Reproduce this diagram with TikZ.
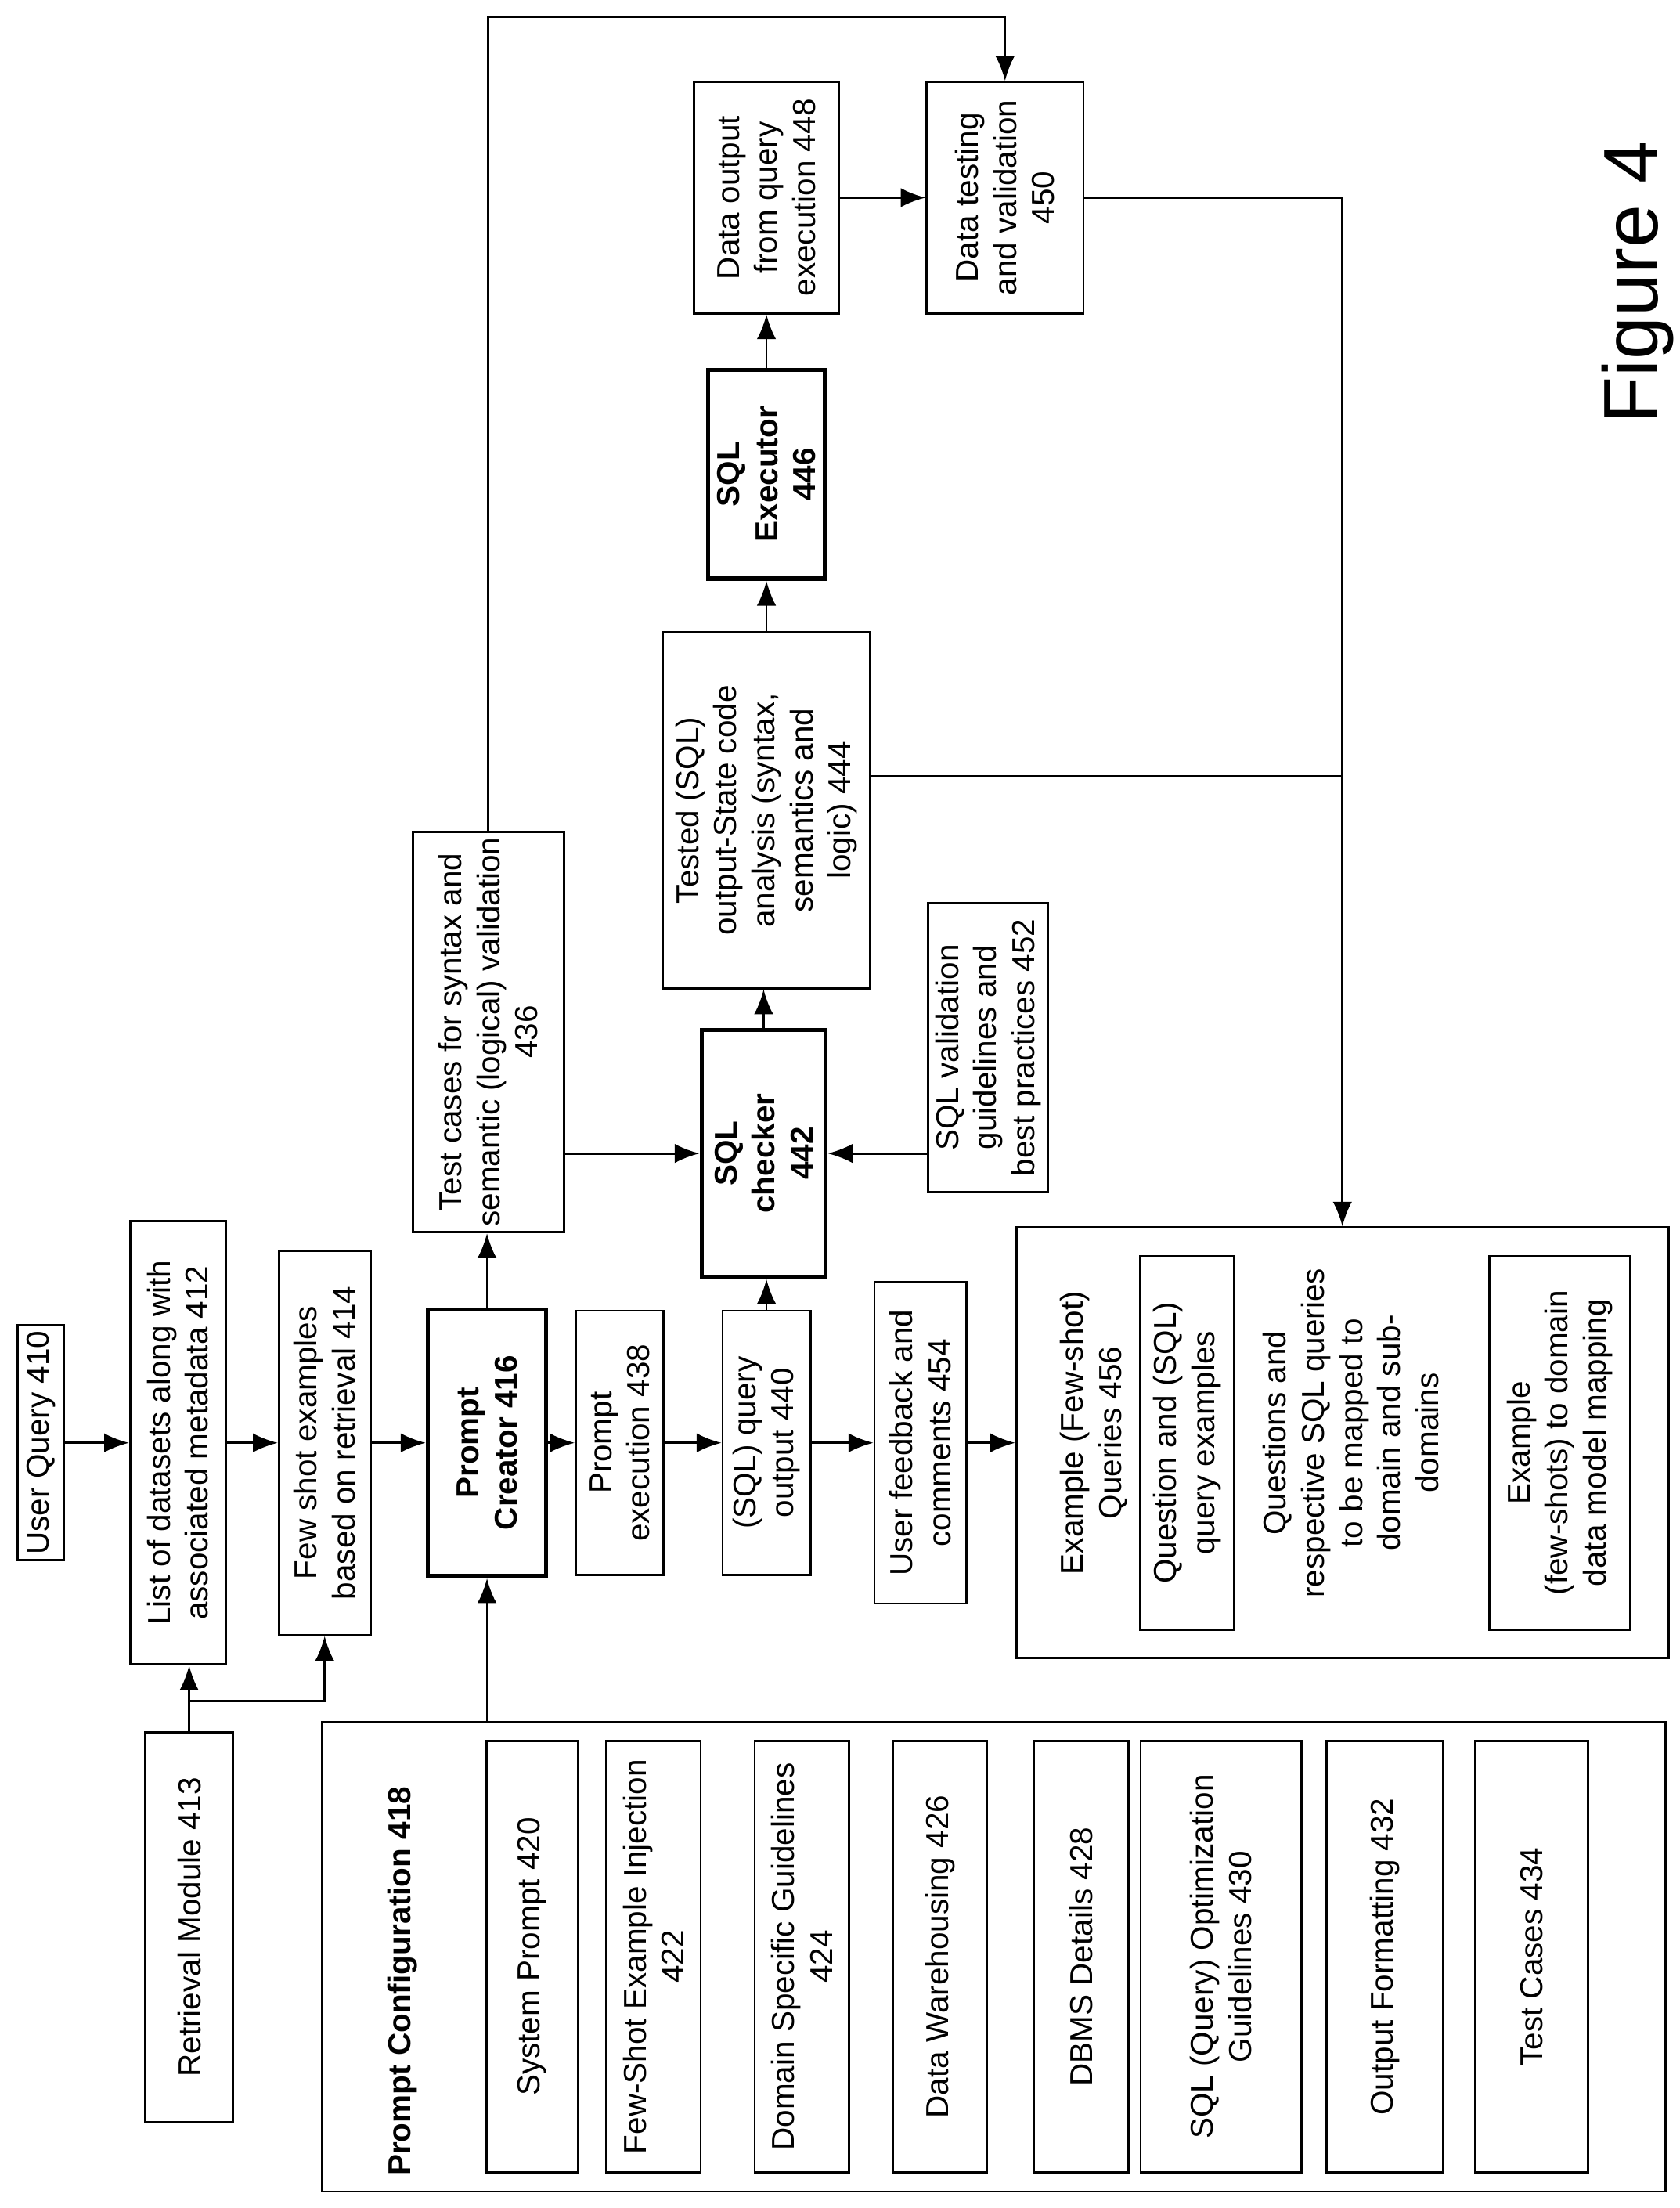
\documentclass[tikz,border=0pt]{standalone}
\usepackage{fontspec}
\setmainfont{Liberation Sans}
\usetikzlibrary{arrows.meta,calc}
\tikzset{
  box/.style={
    draw=black,
    line width=0.8pt,
    rotate=90,
    align=center,
    inner sep=2pt,
    font=\fontsize{11.5}{13.8}\selectfont
  },
  box-bold/.style={
    box,
    line width=1.6pt,
    font=\fontsize{11.5}{13.8}\selectfont\bfseries
  },
  plain-text/.style={
    rotate=90,
    align=center,
    font=\fontsize{11.5}{13.8}\selectfont
  },
  sz/.style 2 args={minimum width=#1cm, minimum height=#2cm},
  arr/.style={line width=0.8pt, -{Latex[length=9pt,width=7pt]}},
  wire/.style={line width=0.8pt}
}

\begin{document}
\begin{tikzpicture}[x=0.018cm,y=-0.018cm]
  \useasboundingbox (0,0) rectangle (1190,1564);
  % Query side
  \node[box, sz={2.47}{0.59}] (query) at (29,1022) {User Query 410};
  \node[box, sz={5.65}{1.22}] (datasets) at (126,1022) {List of datasets along with\\associated metadata 412};
  \node[box, sz={4.9}{1.17}] (fewshot) at (230,1022) {Few shot examples\\based on retrieval 414};
  \node[box-bold, sz={3.4}{1.51}] (creator) at (345,1022) {Prompt\\Creator 416};
  \node[box, sz={4.97}{1.12}] (retrieval) at (134,1365) {Retrieval Module 413};
  \coordinate (split) at (134,1205);
  % Prompt configuration
  \node[draw, line width=0.8pt, rotate=90, sz={5.99}{17.14}] (config) at (704,1386) {};
  \node[plain-text, anchor=west, font=\fontsize{11.5}{13.8}\selectfont\bfseries] (configlabel) at (285,1548) {Prompt Configuration 418};
  \node[box, sz={5.5}{1.17}] (sysprompt) at (377,1386) {System Prompt 420};
  \node[box, sz={5.5}{1.2}] (injection) at (463,1386) {Few-Shot Example Injection\\422};
  \node[box, sz={5.5}{1.2}] (domain) at (568,1386) {Domain Specific Guidelines\\424};
  \node[box, sz={5.5}{1.2}] (warehouse) at (666,1386) {Data Warehousing 426};
  \node[box, sz={5.5}{1.2}] (dbms) at (766,1386) {DBMS Details 428};
  \node[box, sz={5.5}{2.05}] (optim) at (865,1386) {SQL (Query) Optimization\\Guidelines 430};
  \node[box, sz={5.5}{1.48}] (formatting) at (981,1386) {Output Formatting 432};
  \node[box, sz={5.5}{1.44}] (testcases) at (1085,1386) {Test Cases 434};
  % Execution chain
  \node[box, sz={4.55}{1.93}] (validcases) at (346,731) {Test cases for syntax and\\semantic (logical) validation\\436};
  \node[box, sz={3.37}{1.12}] (execution) at (439,1022) {Prompt\\execution 438};
  \node[box, sz={3.37}{1.12}] (output) at (543,1022) {(SQL) query\\output 440};
  \node[box, sz={4.1}{1.17}] (feedback) at (652,1022) {User feedback and\\comments 454};
  \node[box-bold, sz={3.15}{1.58}] (checker) at (541,817) {SQL\\checker\\442};
  \node[box, sz={4.54}{2.65}] (tested) at (543,574) {Tested (SQL)\\output-State code\\analysis (syntax,\\semantics and\\logic) 444};
  \node[box, sz={3.69}{1.53}] (guidelines) at (700,742) {SQL validation\\guidelines and\\best practices 452};
  \node[box-bold, sz={2.66}{1.49}] (executor) at (543,336) {SQL\\Executor\\446};
  \node[box, sz={2.95}{1.85}] (dataout) at (543,140) {Data output\\from query\\execution 448};
  \node[box, sz={2.95}{2.0}] (datatest) at (712,140) {Data testing\\and validation\\450};
  % Example queries
  \node[draw, line width=0.8pt, rotate=90, sz={5.49}{8.32}] (examples) at (951,1022) {};
  \node[plain-text] (extitle) at (775,1015) {Example (Few-shot)\\Queries 456};
  \node[box, sz={4.77}{1.2}] (qa) at (841,1022) {Question and (SQL)\\query examples};
  \node[plain-text] (mapped) at (957,1015) {Questions and\\respective SQL queries\\to be mapped to\\domain and sub-\\domains};
  \node[box, sz={4.77}{1.8}] (modelmap) at (1105,1022) {Example\\(few-shots) to domain\\data model mapping};
  \node[plain-text, font=\fontsize{28}{32}\selectfont] (fig) at (1160,200) {Figure 4};
  % Connectors
  \draw[arr] (query) -- (datasets);
  \draw[arr] (datasets) -- (fewshot);
  \draw[arr] (fewshot) -- (creator);
  \draw[arr] (retrieval.east) -- (split -| retrieval) -- (retrieval |- datasets.west);
  \draw[arr] (split -| retrieval) -| (fewshot.west);
  \draw[arr] (creator |- config.east) -- (creator.west);
  \draw[arr] (creator) -- (execution);
  \draw[arr] (creator.east) -- (creator.east |- validcases.west);
  \draw[arr] (execution) -- (output);
  \draw[arr] (output) -- (feedback);
  \draw[arr] (feedback) -- (feedback -| examples.north);
  \draw[arr] (output.east) -- (output.east |- checker.west);
  \draw[arr] (validcases.south |- checker) -- (checker);
  \draw[arr] (guidelines.north |- checker) -- (checker);
  \draw[arr] (checker.east) -- (checker.east |- tested.west);
  \draw[arr] (tested.east) -- (tested.east |- executor.west);
  \draw[arr] (executor.east) -- (executor.east |- dataout.west);
  \draw[arr] (dataout) -- (datatest);
  \coordinate (topturn) at (712,12);
  \draw[arr] (validcases.east) |- (topturn) -- (datatest.east);
  \draw[wire] (tested.south |- 0,550) -- (examples |- 0,550);
  \draw[arr] (datatest.south) -| (examples.east);
\end{tikzpicture}
\end{document}
